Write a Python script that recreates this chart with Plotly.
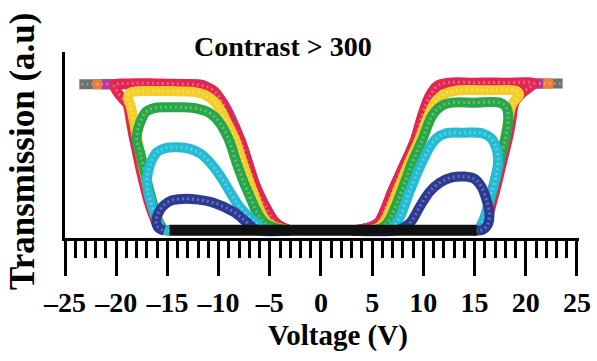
import plotly.graph_objects as go

# ---------------- data ----------------
# Voltage (V) / Transmission (a.u.) for each curve, left (negative) and right (positive) halves
gray_left_v = [-3.0, -4.4, -6.2, -7.9, -9.7, -11.4, -13.0, -18.0, -23.6]
gray_left_t = [0.01, 0.06, 0.27, 0.60, 0.85, 0.95, 0.96, 0.96, 0.96]
gray_right_v = [3.0, 5.6, 7.0, 9.1, 10.6, 11.4, 12.5, 18.0, 23.6]
gray_right_t = [0.01, 0.06, 0.27, 0.58, 0.88, 0.95, 0.965, 0.965, 0.965]

orange_left_v = [-3.0, -4.4, -6.2, -7.9, -9.7, -11.4, -13.0, -18.0, -22.3]
orange_left_t = [0.01, 0.06, 0.27, 0.60, 0.85, 0.95, 0.96, 0.96, 0.96]
orange_right_v = [3.0, 5.6, 7.0, 9.1, 10.6, 11.4, 12.5, 18.0, 22.7]
orange_right_t = [0.01, 0.06, 0.27, 0.58, 0.88, 0.95, 0.965, 0.965, 0.965]

magenta_left_v = [-3.0, -4.4, -6.2, -7.9, -9.7, -11.4, -13.0, -18.0, -21.4]
magenta_left_t = [0.01, 0.06, 0.27, 0.60, 0.85, 0.95, 0.96, 0.96, 0.96]
magenta_right_v = [3.0, 5.6, 7.0, 9.1, 10.6, 11.4, 12.5, 18.0, 21.7]
magenta_right_t = [0.01, 0.06, 0.27, 0.58, 0.88, 0.95, 0.965, 0.965, 0.965]

red_left_v = [-3.0, -4.5, -5.3, -6.25, -7.1, -7.9, -8.9, -9.7, -10.5, -11.5, -13.0, -16.0, -19.0,
              -20.2, -19.9, -19.3, -18.9, -18.6, -18.3, -17.95, -17.6, -17.2, -16.8, -16.2, -15.7, -15.0]
red_left_t = [0.01, 0.06, 0.15, 0.27, 0.44, 0.60, 0.73, 0.85, 0.92, 0.95, 0.96, 0.965, 0.965,
              0.955, 0.91, 0.86, 0.83, 0.73, 0.62, 0.51, 0.40, 0.29, 0.19, 0.08, 0.02, 0.01]
red_right_v = [3.0, 4.8, 5.6, 7.0, 8.2, 9.1, 9.9, 10.6, 11.4, 12.5, 15.0, 18.0, 20.8,
               20.4, 19.6, 18.9, 18.6, 18.3, 17.9, 17.5, 17.1, 16.7, 16.2, 15.7, 15.0]
red_right_t = [0.01, 0.02, 0.06, 0.27, 0.45, 0.58, 0.76, 0.88, 0.95, 0.97, 0.97, 0.97, 0.965,
               0.94, 0.90, 0.84, 0.73, 0.62, 0.51, 0.40, 0.29, 0.19, 0.08, 0.02, 0.01]

yellow_left_v = [-3.0, -5.2, -6.7, -7.6, -8.4, -9.4, -10.3, -11.3, -12.5, -15.0, -17.5, -18.6,
                 -18.85, -18.6, -18.3, -18.0, -17.65, -17.3, -16.9, -16.5, -15.9, -15.4, -14.8]
yellow_left_t = [0.01, 0.06, 0.27, 0.44, 0.60, 0.74, 0.84, 0.89, 0.91, 0.915, 0.915, 0.905,
                 0.87, 0.82, 0.73, 0.62, 0.51, 0.40, 0.29, 0.19, 0.08, 0.02, 0.01]
yellow_right_v = [3.0, 5.3, 6.1, 7.5, 8.6, 9.6, 10.4, 11.2, 12.2, 13.5, 16.5, 19.1,
                  19.35, 19.0, 18.6, 18.3, 18.0, 17.6, 17.2, 16.8, 16.4, 15.9, 15.4, 14.8]
yellow_right_t = [0.01, 0.02, 0.06, 0.27, 0.45, 0.60, 0.74, 0.85, 0.90, 0.92, 0.92, 0.915,
                  0.89, 0.86, 0.82, 0.73, 0.62, 0.51, 0.40, 0.29, 0.19, 0.08, 0.02, 0.01]

green_left_v = [-3.0, -5.5, -7.2, -8.2, -9.0, -9.9, -10.8, -12.0, -13.5, -15.0, -16.3, -17.1,
                -17.6, -17.9, -18.0, -17.65, -17.25, -16.85, -16.45, -15.95, -15.4, -14.8]
green_left_t = [0.01, 0.06, 0.27, 0.44, 0.60, 0.71, 0.77, 0.80, 0.81, 0.81, 0.805, 0.78,
                0.72, 0.66, 0.60, 0.51, 0.40, 0.29, 0.19, 0.08, 0.02, 0.01]
green_right_v = [3.0, 5.7, 6.5, 7.9, 8.9, 9.9, 10.9, 11.8, 12.8, 15.0, 17.5, 18.1, 18.3,
                 18.05, 17.65, 17.25, 16.85, 16.45, 15.95, 15.4, 14.8]
green_right_t = [0.01, 0.02, 0.06, 0.27, 0.45, 0.60, 0.76, 0.82, 0.84, 0.84, 0.84, 0.81, 0.74,
                 0.62, 0.51, 0.40, 0.29, 0.19, 0.08, 0.02, 0.01]

cyan_left_v = [-3.0, -5.6, -6.4, -7.9, -8.8, -9.6, -10.7, -11.8, -12.8, -14.0, -15.2, -16.0,
               -16.5, -16.85, -17.0, -16.9, -16.6, -16.1, -15.5, -14.8]
cyan_left_t = [0.01, 0.02, 0.06, 0.16, 0.25, 0.34, 0.44, 0.51, 0.54, 0.55, 0.545, 0.52,
               0.47, 0.40, 0.34, 0.27, 0.19, 0.09, 0.02, 0.01]
cyan_right_v = [3.0, 6.6, 7.4, 8.7, 9.5, 10.0, 10.6, 11.3, 12.2, 14.0, 15.8, 16.6, 17.1,
                17.3, 17.2, 16.8, 16.4, 15.9, 15.4, 14.8]
cyan_right_t = [0.01, 0.02, 0.06, 0.27, 0.40, 0.47, 0.55, 0.61, 0.64, 0.645, 0.64, 0.61, 0.55,
                0.47, 0.40, 0.29, 0.19, 0.08, 0.02, 0.01]

blue_left_v = [-3.0, -6.3, -7.2, -8.5, -10.5, -12.0, -13.5, -14.6, -15.4, -15.9, -16.1, -15.9, -15.3]
blue_left_t = [0.01, 0.015, 0.06, 0.13, 0.19, 0.21, 0.215, 0.205, 0.17, 0.12, 0.07, 0.03, 0.01]
blue_right_v = [3.0, 7.6, 8.7, 9.7, 10.6, 11.6, 12.8, 14.0, 15.0, 15.7, 16.2, 16.45, 16.3, 15.8, 15.0]
blue_right_t = [0.01, 0.015, 0.06, 0.17, 0.26, 0.32, 0.355, 0.36, 0.345, 0.29, 0.20, 0.12, 0.05, 0.015, 0.01]

black_v = [-14.8, -10.0, -5.0, 0.0, 5.0, 10.0, 15.2]
black_t = [0.012, 0.012, 0.01, 0.01, 0.01, 0.012, 0.012]

tick_vals = [-25, -20, -15, -10, -5, 0, 5, 10, 15, 20, 25]
tick_text = ["\u201325", "\u201320", "\u201315", "\u201310", "\u20135",
             "0", "5", "10", "15", "20", "25"]

title_text = "Contrast > 300"
x_title = "Voltage (V)"
y_title = "Transmission (a.u)"

# ---------------- figure ----------------
series = [
    ("gray", "#6f6f6f", gray_left_v, gray_left_t, gray_right_v, gray_right_t),
    ("orange", "#ec7f35", orange_left_v, orange_left_t, orange_right_v, orange_right_t),
    ("magenta", "#b43c98", magenta_left_v, magenta_left_t, magenta_right_v, magenta_right_t),
    ("red", "#e2264f", red_left_v, red_left_t, red_right_v, red_right_t),
    ("yellow", "#f3cd28", yellow_left_v, yellow_left_t, yellow_right_v, yellow_right_t),
    ("green", "#27a747", green_left_v, green_left_t, green_right_v, green_right_t),
    ("cyan", "#24bcd5", cyan_left_v, cyan_left_t, cyan_right_v, cyan_right_t),
    ("blue", "#2c3a94", blue_left_v, blue_left_t, blue_right_v, blue_right_t),
]

fig = go.Figure()
for name, color, lv, lt, rv, rt in series:
    xs = list(lv) + [None] + list(rv)
    ys = list(lt) + [None] + list(rt)
    fig.add_trace(go.Scatter(
        x=xs, y=ys, mode="lines", name=name, connectgaps=False,
        line=dict(color=color, width=10, shape="spline", smoothing=1.0),
        showlegend=False, hoverinfo="skip"))
    # light ring-like texture of the open-circle markers
    fig.add_trace(go.Scatter(
        x=xs, y=ys, mode="lines", name=name + " rings", connectgaps=False,
        line=dict(color="rgba(255,255,255,0.28)", width=3, shape="spline", smoothing=1.0,
                  dash="2px,3px"),
        showlegend=False, hoverinfo="skip"))

fig.add_trace(go.Scatter(x=black_v, y=black_t, mode="lines", name="black",
                         line=dict(color="#111111", width=11), showlegend=False, hoverinfo="skip"))

W, H = 597, 361
L, R, T, B = 65, 18, 52, 123
pw, ph = W - L - R, H - T - B

def px_x(px):
    return (px - L) / pw

def px_y(py):
    return (H - B - py) / ph

font_fam = "Liberation Serif, Times New Roman, serif"

fig.update_layout(
    width=W, height=H,
    margin=dict(l=L, r=R, t=T, b=B, pad=0),
    paper_bgcolor="white", plot_bgcolor="white",
    xaxis=dict(range=[-25, 25.2], showline=True, linecolor="black", linewidth=3,
               showgrid=False, zeroline=False, automargin=False,
               ticks="outside", ticklen=35, tickwidth=3, tickcolor="black",
               tickmode="array", tickvals=tick_vals, ticktext=tick_text, tickangle=0,
               tickfont=dict(family=font_fam, size=28, color="black", weight="bold"),
               ticklabelstandoff=2,
               minor=dict(ticks="outside", ticklen=17, tickwidth=3, tickcolor="black",
                          tickmode="linear", tick0=0, dtick=1, showgrid=False)),
    yaxis=dict(range=[-0.039, 1.169], showline=True, linecolor="black", linewidth=3,
               showgrid=False, zeroline=False, ticks="", showticklabels=False, automargin=False),
    annotations=[
        dict(text=title_text, xref="paper", yref="paper", x=px_x(283), y=px_y(46),
             xanchor="center", yanchor="middle", showarrow=False,
             font=dict(family=font_fam, size=28, color="black", weight="bold")),
        dict(text=x_title, xref="paper", yref="paper", x=px_x(338), y=px_y(335),
             xanchor="center", yanchor="middle", showarrow=False,
             font=dict(family=font_fam, size=29, color="black", weight="bold")),
        dict(text=y_title, xref="paper", yref="paper", x=px_x(22), y=px_y(152),
             xanchor="center", yanchor="middle", showarrow=False, textangle=-90,
             font=dict(family=font_fam, size=35, color="black", weight="bold")),
    ],
)

fig.write_html("out.html", config={"displayModeBar": False, "staticPlot": True},
               post_script="document.body.style.margin='0px';")
